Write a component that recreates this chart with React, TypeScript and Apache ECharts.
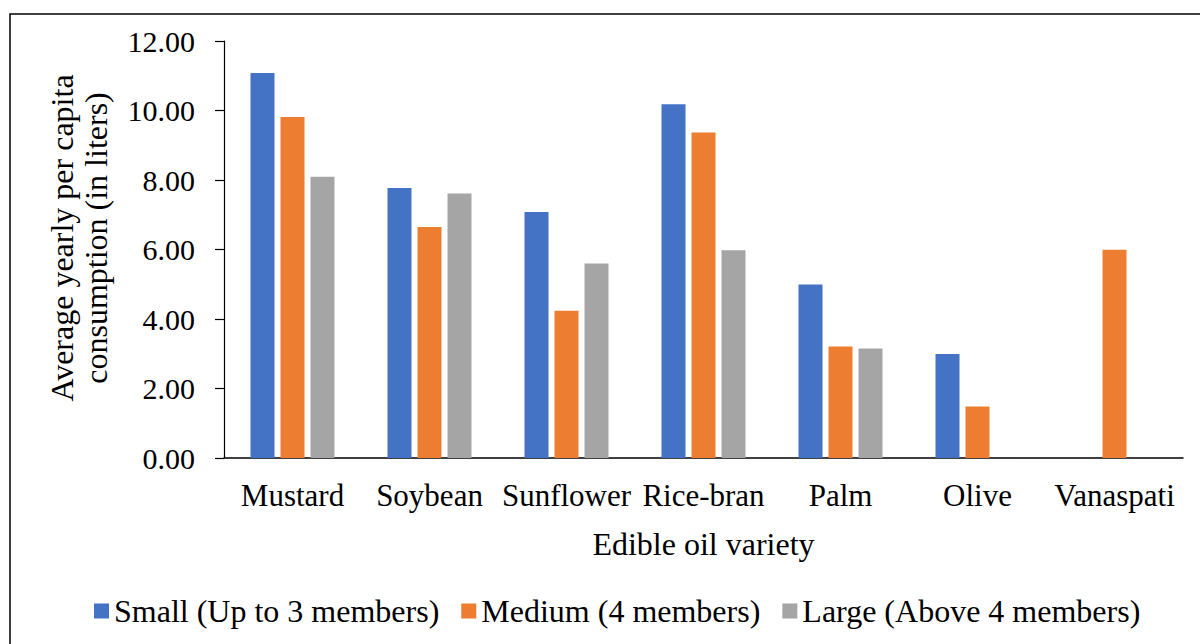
import React, { useEffect, useRef } from "react";
import * as echarts from "echarts";

const categories = ["Mustard", "Soybean", "Sunflower", "Rice-bran", "Palm", "Olive", "Vanaspati"];
const seriesNames = ["Small (Up to 3 members)", "Medium (4 members)", "Large (Above 4 members)"];
const smallValues = [11.08, 7.77, 7.08, 10.18, 4.99, 2.99, null];
const mediumValues = [9.81, 6.65, 4.24, 9.37, 3.21, 1.48, 5.99];
const largeValues = [8.09, 7.61, 5.6, 5.98, 3.15, null, null];
const colors = ["#4472C4", "#ED7D31", "#A5A5A5"];
const yTitleLines = ["Average yearly per capita", "consumption (in liters)"];
const xTitle = "Edible oil variety";

const FONT = "'Liberation Serif', 'Times New Roman', serif";

export default function App() {
  const ref = useRef<HTMLDivElement>(null);
  useEffect(() => {
    if (!ref.current) return;
    const chart = echarts.init(ref.current, null, { renderer: "svg" });
    const values = [smallValues, mediumValues, largeValues];
    chart.setOption({
      animation: false,
      backgroundColor: "#fff",
      textStyle: { fontFamily: FONT },
      grid: { left: 224, right: 17, top: 41, bottom: 186, containLabel: false },
      legend: {
        left: 89,
        top: 590,
        itemWidth: 15,
        itemHeight: 15,
        itemGap: 22,
        icon: "rect",
        textStyle: { fontFamily: FONT, fontSize: 32, color: "#000" },
        data: seriesNames,
      },
      xAxis: {
        type: "category",
        data: categories,
        axisLine: { lineStyle: { color: "#000", width: 1.5 } },
        axisTick: { show: false },
        axisLabel: { interval: 0, hideOverlap: false, fontFamily: FONT, fontSize: 31, color: "#000", margin: 22 },
        name: xTitle,
        nameLocation: "middle",
        nameGap: 70,
        nameTextStyle: { fontFamily: FONT, fontSize: 32, color: "#000" },
      },
      yAxis: {
        type: "value",
        min: 0,
        max: 12,
        interval: 2,
        axisLine: { show: true, lineStyle: { color: "#000", width: 1.2 } },
        axisTick: { show: true, length: 9, lineStyle: { color: "#000", width: 1.2 } },
        splitLine: { show: false },
        axisLabel: {
          fontFamily: FONT,
          fontSize: 30,
          color: "#000",
          margin: 29,
          formatter: (v: number) => v.toFixed(2),
        },
      },
      series: seriesNames.map((name, i) => ({
        name,
        type: "bar",
        data: values[i],
        barWidth: 24,
        barGap: "25%",
        itemStyle: { color: colors[i] },
      })),
      graphic: [
        {
          type: "rect",
          shape: { x: 10, y: 14, width: 1200, height: 700 },
          style: { fill: "none", stroke: "#000", lineWidth: 1.5 },
          silent: true,
        },
        {
          type: "text",
          x: 79,
          y: 238,
          rotation: Math.PI / 2,
          style: {
            text: yTitleLines.join("\n"),
            fontFamily: FONT,
            fontSize: 32,
            lineHeight: 34,
            fill: "#000",
            align: "center",
            verticalAlign: "middle",
          },
        },
      ],
    });
    return () => chart.dispose();
  }, []);
  return (
    <div
      ref={ref}
      style={{ position: "fixed", left: 0, top: 0, width: 1200, height: 644, background: "#fff" }}
    />
  );
}
